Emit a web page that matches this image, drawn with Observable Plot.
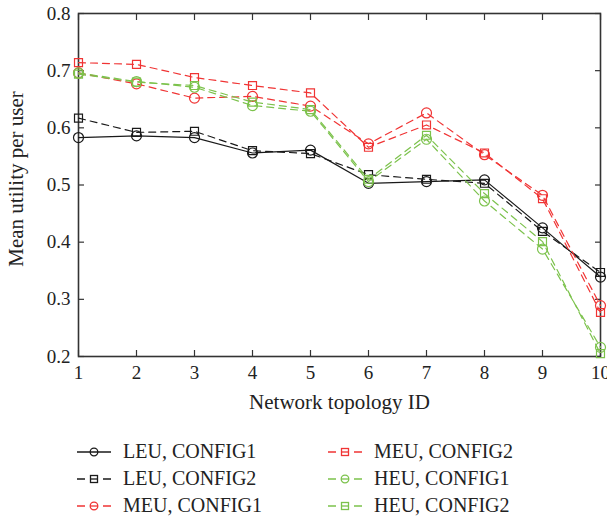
<!DOCTYPE html>
<html>
<head>
<meta charset="utf-8">
<script src="https://cdn.jsdelivr.net/npm/d3@7"></script>
<script src="https://cdn.jsdelivr.net/npm/@observablehq/plot@0.6"></script>
<style>
  html, body { margin: 0; padding: 0; background: #fff; }
  #chart { width: 607px; }
  .legend { display: grid; grid-template-columns: 251px 250px; margin-left: 77px; margin-top: 18px;
            font-family: "Liberation Serif", serif; font-size: 20px; color: #222; }
  .item { display: flex; align-items: center; height: 27px; white-space: nowrap; }
  .item svg { margin-right: 12px; flex: none; }
</style>
</head>
<body>
<div id="chart"></div>
<script>
const ids = [1, 2, 3, 4, 5, 6, 7, 8, 9, 10];
const xTicks = [1, 2, 3, 4, 5, 6, 7, 8, 9, 10];
const yTicks = [0.2, 0.3, 0.4, 0.5, 0.6, 0.7, 0.8];
const xTitle = "Network topology ID";
const yTitle = "Mean utility per user";
const seriesNames = ["LEU, CONFIG1", "LEU, CONFIG2", "MEU, CONFIG1", "MEU, CONFIG2", "HEU, CONFIG1", "HEU, CONFIG2"];
const leu1 = [0.583, 0.586, 0.583, 0.556, 0.561, 0.503, 0.506, 0.509, 0.425, 0.339];
const leu2 = [0.617, 0.592, 0.594, 0.560, 0.555, 0.518, 0.510, 0.503, 0.419, 0.347];
const meu1 = [0.696, 0.677, 0.652, 0.655, 0.638, 0.572, 0.626, 0.553, 0.482, 0.289];
const meu2 = [0.714, 0.711, 0.688, 0.674, 0.661, 0.566, 0.605, 0.556, 0.476, 0.277];
const heu1 = [0.696, 0.681, 0.671, 0.639, 0.629, 0.506, 0.580, 0.472, 0.388, 0.216];
const heu2 = [0.694, 0.680, 0.674, 0.645, 0.632, 0.510, 0.587, 0.485, 0.401, 0.205];

const BLACK = "#1a1a1a", RED = "#f03434", GREEN = "#7cc24c";
const styles = [
  {values: leu1, color: BLACK, dash: null, symbol: "circle"},
  {values: leu2, color: BLACK, dash: "7,5", symbol: "square"},
  {values: meu1, color: RED, dash: "7,5", symbol: "circle"},
  {values: meu2, color: RED, dash: "7,5", symbol: "square"},
  {values: heu1, color: GREEN, dash: "7,5", symbol: "circle"},
  {values: heu2, color: GREEN, dash: "7,5", symbol: "square"}
];

const marks = [];
styles.forEach((s, i) => {
  const data = ids.map((id, j) => ({id, v: s.values[j], series: seriesNames[i]}));
  marks.push(Plot.line(data, {x: "id", y: "v", stroke: s.color, strokeWidth: 1.2,
    strokeDasharray: s.dash || undefined}));
  marks.push(Plot.dot(data, {x: "id", y: "v", stroke: s.color, fill: "none", strokeWidth: 1.2,
    symbol: s.symbol, r: s.symbol === "circle" ? 5 : 4.5}));
});

const chart = Plot.plot({
  width: 607,
  height: 420,
  marginLeft: 78,
  marginRight: 7,
  marginTop: 13,
  marginBottom: 64,
  style: {fontFamily: "Liberation Serif, serif", fontSize: "19px", color: "#222", background: "#fff"},
  x: {domain: [1, 10]},
  y: {domain: [0.2, 0.8]},
  marks: [
    Plot.axisX({ticks: xTicks, tickSize: 0, tickPadding: 9, tickFormat: d => String(d), label: null}),
    Plot.axisY({ticks: yTicks, tickSize: 0, tickPadding: 8, tickFormat: d3.format(".1f"), label: null}),
    Plot.text([xTitle], {frameAnchor: "bottom", dy: 52, fontSize: 21, fill: "#222"}),
    Plot.text([yTitle], {frameAnchor: "left", textAnchor: "middle", lineAnchor: "middle",
      dx: -62, dy: -6, rotate: -90, fontSize: 21, fill: "#222"}),
    Plot.axisX({anchor: "bottom", ticks: xTicks, tickSize: -6, text: null, label: null, stroke: "#333", strokeWidth: 1.2}),
    Plot.axisX({anchor: "top", ticks: xTicks, tickSize: -6, text: null, label: null, stroke: "#333", strokeWidth: 1.2}),
    Plot.axisY({anchor: "left", ticks: yTicks, tickSize: -6, text: null, label: null, stroke: "#333", strokeWidth: 1.2}),
    Plot.axisY({anchor: "right", ticks: yTicks, tickSize: -6, text: null, label: null, stroke: "#333", strokeWidth: 1.2}),
    Plot.frame({stroke: "#333", strokeWidth: 1.6}),
    ...marks
  ]
});
document.getElementById("chart").appendChild(chart);

// Legend
const legend = document.createElement("div");
legend.className = "legend";
const order = [0, 3, 1, 4, 2, 5];
const ns = "http://www.w3.org/2000/svg";
order.forEach(i => {
  const s = styles[i];
  const item = document.createElement("div");
  item.className = "item";
  const svg = document.createElementNS(ns, "svg");
  svg.setAttribute("width", 34); svg.setAttribute("height", 14);
  const line = document.createElementNS(ns, "line");
  line.setAttribute("x1", 0); line.setAttribute("x2", 34);
  line.setAttribute("y1", 7); line.setAttribute("y2", 7);
  line.setAttribute("stroke", s.color); line.setAttribute("stroke-width", 1.3);
  if (s.dash) line.setAttribute("stroke-dasharray", "8,18");
  svg.appendChild(line);
  if (s.dash) {
    const l2 = document.createElementNS(ns, "line");
    l2.setAttribute("x1", 13); l2.setAttribute("x2", 21);
    l2.setAttribute("y1", 7); l2.setAttribute("y2", 7);
    l2.setAttribute("stroke", s.color); l2.setAttribute("stroke-width", 1.3);
    svg.appendChild(l2);
  }
  let sym;
  if (s.symbol === "circle") {
    sym = document.createElementNS(ns, "circle");
    sym.setAttribute("cx", 17); sym.setAttribute("cy", 7); sym.setAttribute("r", 3.8);
  } else {
    sym = document.createElementNS(ns, "rect");
    sym.setAttribute("x", 13.5); sym.setAttribute("y", 3.5);
    sym.setAttribute("width", 7); sym.setAttribute("height", 7);
  }
  sym.setAttribute("fill", "none"); sym.setAttribute("stroke", s.color); sym.setAttribute("stroke-width", 1.3);
  svg.appendChild(sym);
  item.appendChild(svg);
  const t = document.createElement("span");
  t.textContent = seriesNames[i];
  item.appendChild(t);
  legend.appendChild(item);
});
document.getElementById("chart").appendChild(legend);
</script>
</body>
</html>
